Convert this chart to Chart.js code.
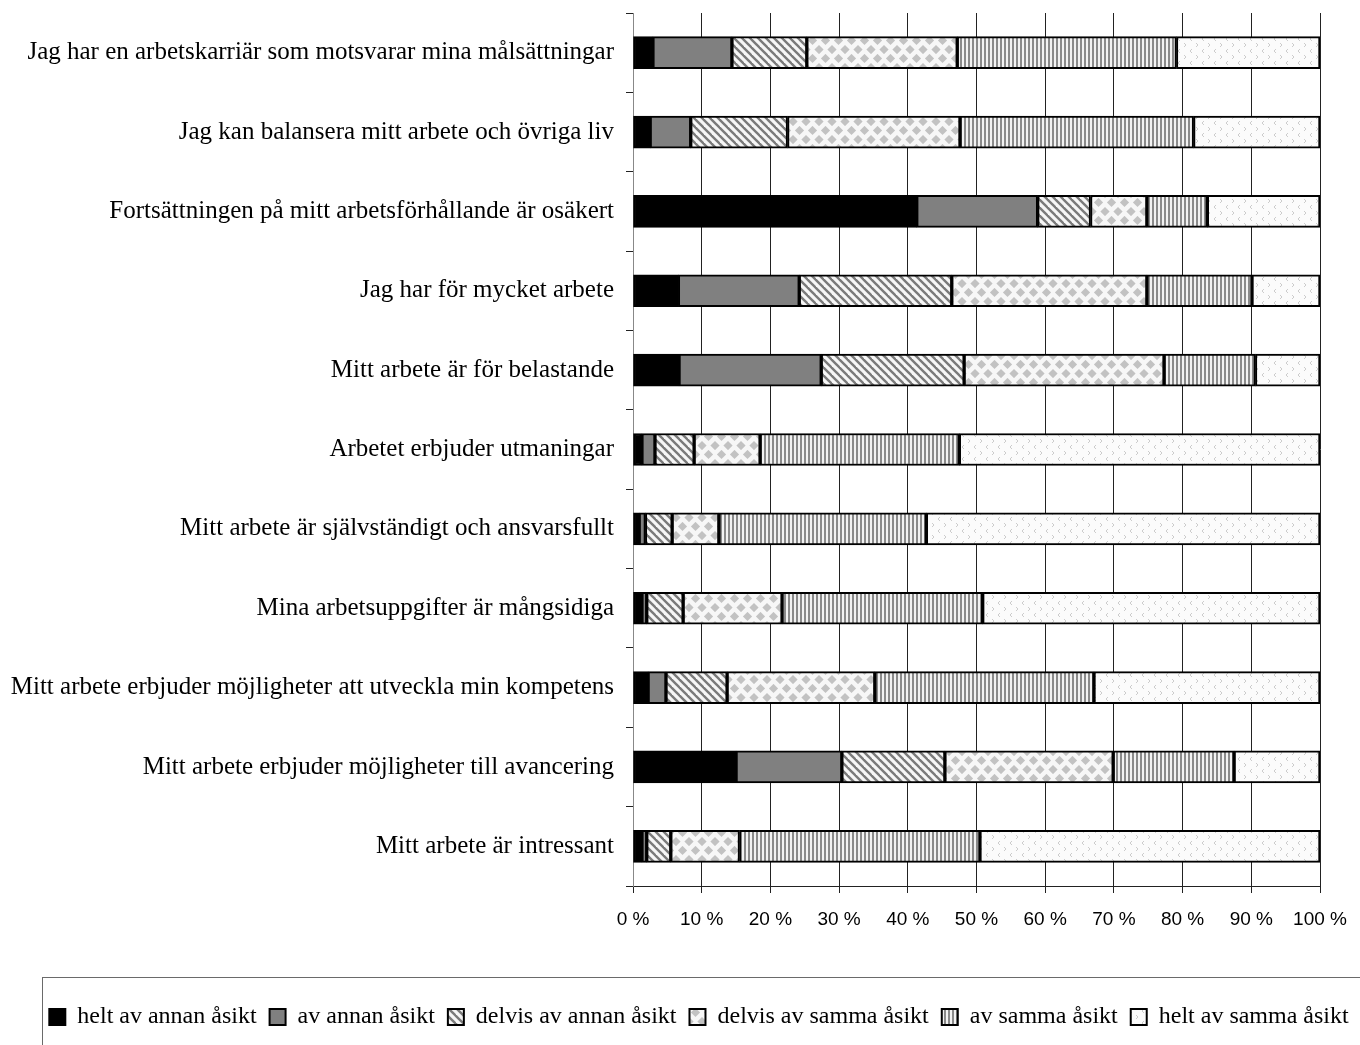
<!DOCTYPE html>
<html>
<head>
<meta charset="utf-8">
<script src="https://cdn.jsdelivr.net/npm/chart.js@4/dist/chart.umd.min.js"></script>
<style>
  html, body { margin: 0; padding: 0; background: #fff; }
  #wrap { width: 1360px; height: 1045px; }
</style>
</head>
<body>
<div id="wrap"><canvas id="chart" width="1360" height="1045"></canvas></div>
<script>
var categories = [
    'Jag har en arbetskarriär som motsvarar mina målsättningar',
    'Jag kan balansera mitt arbete och övriga liv',
    'Fortsättningen på mitt arbetsförhållande är osäkert',
    'Jag har för mycket arbete',
    'Mitt arbete är för belastande',
    'Arbetet erbjuder utmaningar',
    'Mitt arbete är självständigt och ansvarsfullt',
    'Mina arbetsuppgifter är mångsidiga',
    'Mitt arbete erbjuder möjligheter att utveckla min kompetens',
    'Mitt arbete erbjuder möjligheter till avancering',
    'Mitt arbete är intressant'
];

var seriesNames = [
    'helt av annan åsikt',
    'av annan åsikt',
    'delvis av annan åsikt',
    'delvis av samma åsikt',
    'av samma åsikt',
    'helt av samma åsikt'
];

var heltAnnan   = [2.9, 2.5, 41.3, 6.6, 6.7, 1.3, 0.9, 1.3, 2.2, 15.0, 1.3];
var avAnnan     = [11.5, 5.9, 17.6, 17.6, 20.7, 1.9, 0.9, 0.7, 2.6, 15.4, 0.7];
var delvisAnnan = [10.9, 14.1, 7.7, 22.2, 20.8, 5.7, 3.9, 5.3, 8.9, 15.0, 3.5];
var delvisSamma = [21.9, 25.1, 8.2, 28.4, 29.1, 9.6, 6.8, 14.4, 21.5, 24.5, 10.0];
var avSamma     = [31.9, 34.0, 8.8, 15.3, 13.3, 29.0, 30.2, 29.2, 31.9, 17.6, 35.0];
var heltSamma   = [20.9, 18.4, 16.4, 9.9, 9.4, 52.5, 57.3, 49.1, 32.9, 12.5, 49.5];

var xTicks = [0, 10, 20, 30, 40, 50, 60, 70, 80, 90, 100];

// small tiles for the fill patterns
function makePattern(kind) {
    var c = document.createElement('canvas');
    var g = c.getContext('2d');
    if (kind === 'diag') {
        c.width = 8; c.height = 8;
        g.fillStyle = '#f6f6f6';
        g.fillRect(0, 0, 8, 8);
        g.strokeStyle = '#7a7a7a';
        g.lineWidth = 2.4;
        [-8, 0, 8].forEach(function (o) {
            g.beginPath();
            g.moveTo(o - 1, -1);
            g.lineTo(o + 9, 9);
            g.stroke();
        });
    } else if (kind === 'diamond') {
        c.width = 13; c.height = 18;
        g.fillStyle = '#f7f7f7';
        g.fillRect(0, 0, 13, 18);
        g.fillStyle = '#c2c2c2';
        var pts = [[6.5, 4.5], [0, 13.5], [13, 13.5], [6.5, 22.5], [0, -4.5], [13, -4.5]];
        pts.forEach(function (p) {
            g.beginPath();
            g.moveTo(p[0], p[1] - 4.6);
            g.lineTo(p[0] + 4.6, p[1]);
            g.lineTo(p[0], p[1] + 4.6);
            g.lineTo(p[0] - 4.6, p[1]);
            g.closePath();
            g.fill();
        });
    } else if (kind === 'vert') {
        c.width = 4; c.height = 4;
        g.fillStyle = '#f2f2f2';
        g.fillRect(0, 0, 4, 4);
        g.fillStyle = '#8a8a8a';
        g.fillRect(0, 0, 2, 4);
    } else if (kind === 'chevron') {
        c.width = 12; c.height = 12;
        g.fillStyle = '#fbfbfb';
        g.fillRect(0, 0, 12, 12);
        g.strokeStyle = '#cccccc';
        g.lineWidth = 1;
        g.beginPath();
        g.moveTo(4, 1); g.lineTo(2, 3); g.lineTo(4, 5);
        g.moveTo(8, 7); g.lineTo(10, 9); g.lineTo(8, 11);
        g.stroke();
    }
    return g.createPattern(c, 'repeat');
}

var fills = [
    '#000000',
    '#808080',
    makePattern('diag'),
    makePattern('diamond'),
    makePattern('vert'),
    makePattern('chevron')
];

var seriesData = [heltAnnan, avAnnan, delvisAnnan, delvisSamma, avSamma, heltSamma];

var datasets = seriesData.map(function (values, i) {
    return {
        label: seriesNames[i],
        data: values,
        backgroundColor: fills[i],
        borderColor: '#000',
        borderWidth: 2,
        borderSkipped: false,
        barThickness: 32
    };
});

// legend sits a bit right of centre in the original, inside a frame
// that runs off the right edge
var legendFrame = {
    id: 'legendFrame',
    afterLayout: function (chart) {
        chart.legend.left += 19;
        chart.legend.right += 19;
    },
    afterDraw: function (chart) {
        var ctx = chart.ctx;
        ctx.save();
        ctx.strokeStyle = '#6a6a6a';
        ctx.lineWidth = 1;
        ctx.strokeRect(42.5, 977.5, 1400, 100);
        ctx.restore();
    }
};

var ctx = document.getElementById('chart').getContext('2d');
new Chart(ctx, {
    type: 'bar',
    data: {
        labels: categories,
        datasets: datasets
    },
    options: {
        indexAxis: 'y',
        responsive: false,
        animation: false,
        layout: {
            padding: { top: 13, left: 0, right: 0, bottom: 6 }
        },
        scales: {
            x: {
                stacked: true,
                min: 0,
                max: 100,
                afterBuildTicks: function (scale) {
                    scale.ticks = xTicks.map(function (v) { return { value: v }; });
                },
                afterFit: function (scale) {
                    scale.height = 106;
                    scale.paddingRight = 40;
                },
                grid: {
                    color: '#222',
                    lineWidth: 1,
                    tickLength: 7
                },
                border: { color: '#222', width: 1 },
                ticks: {
                    padding: 15,
                    color: '#000',
                    font: { family: 'Liberation Sans', size: 19 },
                    callback: function (v) { return v + ' %'; }
                }
            },
            y: {
                stacked: true,
                afterFit: function (scale) {
                    scale.width = 633;
                    scale.paddingTop = 0;
                    scale.paddingBottom = 0;
                },
                grid: {
                    drawOnChartArea: false,
                    color: '#222',
                    tickLength: 7
                },
                border: { color: '#888', width: 1 },
                ticks: {
                    padding: 12,
                    color: '#000',
                    font: { family: 'Liberation Serif', size: 25 }
                }
            }
        },
        plugins: {
            legend: {
                position: 'bottom',
                labels: {
                    color: '#000',
                    font: { family: 'Liberation Serif', size: 24 },
                    boxWidth: 16,
                    boxHeight: 16,
                    padding: 13
                }
            },
            tooltip: { enabled: false }
        }
    },
    plugins: [legendFrame]
});
</script>
</body>
</html>
